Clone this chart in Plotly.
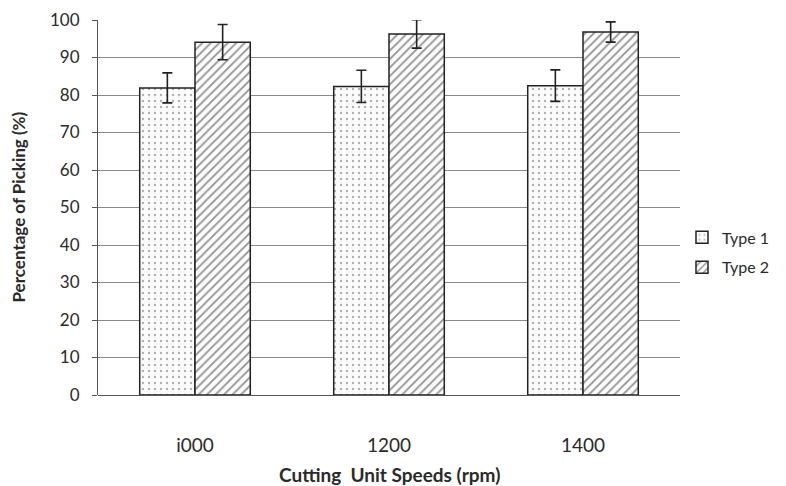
import plotly.graph_objects as go

categories = ["1000", "1200", "1400"]
tick_text = ["i000", "1200", "1400"]
type1_values = [81.9, 82.3, 82.5]
type1_errors = [4.0, 4.3, 4.2]
type2_values = [94.1, 96.3, 96.8]
type2_errors = [4.7, 3.8, 2.7]

FONT = "Lato, 'Open Sans', sans-serif"
TXT = "#2a2a2a"

fig = go.Figure()
fig.add_trace(go.Bar(
    name="Type 1", x=categories, y=type1_values,
    error_y=dict(type="data", array=type1_errors, color="#222", thickness=1.6, width=5),
    marker=dict(color="#fbfbfb", line=dict(color="#222", width=1.5),
                pattern=dict(shape=".", fgcolor="#666", bgcolor="#fbfbfb", size=6, solidity=0.12)),
    legendgroup="a",
))
fig.add_trace(go.Bar(
    name="Type 2", x=categories, y=type2_values,
    error_y=dict(type="data", array=type2_errors, color="#222", thickness=1.6, width=5),
    marker=dict(color="#fbfbfb", line=dict(color="#222", width=1.5),
                pattern=dict(shape="/", fgcolor="#2a2a2a", bgcolor="#fbfbfb", size=6, solidity=0.3)),
    legendgroup="b",
))

fig.update_layout(
    width=786, height=486,
    margin=dict(l=90, r=114, t=12, b=99),
    paper_bgcolor="white", plot_bgcolor="white",
    barmode="group", bargap=0.43, bargroupgap=0,
    font=dict(family=FONT, color=TXT),
    legend=dict(xref="container", yref="container", x=0.8575, y=0.497,
                xanchor="left", yanchor="middle",
                font=dict(size=16, color=TXT), tracegroupgap=6,
                itemwidth=30),
    xaxis=dict(
        tickmode="array", tickvals=categories, ticktext=tick_text,
        tickfont=dict(size=19, color=TXT), ticklabelstandoff=37,
        showline=False, ticks="", automargin=False,
    ),
    yaxis=dict(
        range=[0, 100], dtick=10, tickfont=dict(size=17, color=TXT),
        showgrid=True, gridcolor="#8a8a8a", gridwidth=1,
        showline=True, linecolor="#555", linewidth=1.2,
        ticks="outside", ticklen=5, tickcolor="#555", ticklabelstandoff=9,
        zeroline=True, zerolinecolor="#555", zerolinewidth=1.2,
        automargin=False,
    ),
    annotations=[
        dict(text="<b>Cutting  Unit Speeds (rpm)</b>", xref="paper", yref="paper",
             x=0.5, y=-0.211, xanchor="center", yanchor="middle",
             showarrow=False, font=dict(size=19, color=TXT)),
        dict(text="<b>Percentage of Picking (%)</b>", xref="paper", yref="paper",
             x=0, y=0.5, xshift=-80, xanchor="center", yanchor="middle",
             textangle=-90, showarrow=False, font=dict(size=17, color=TXT)),
    ],
)

fig.write_html("out.html")
